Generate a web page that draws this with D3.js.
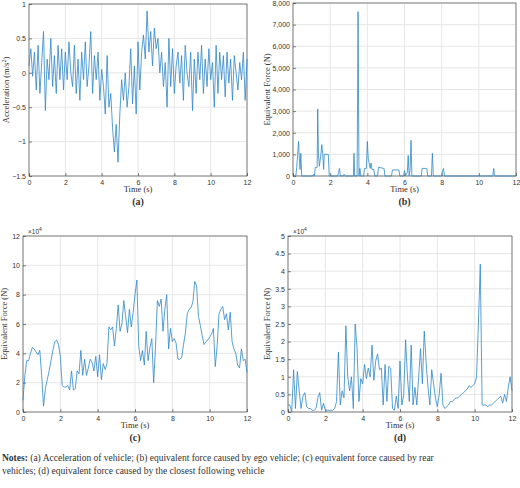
<!DOCTYPE html><html><head><meta charset="utf-8">
<script src="https://cdn.jsdelivr.net/npm/d3@7"></script>
<style>body{margin:0;background:#fff}svg text{fill:#333}</style></head><body>
<svg id="s" width="520" height="488"></svg>
<script>
const timeTicks=[0,2,4,6,8,10,12];
const accel=[0.1,0.35,-0.05,0.3,-0.25,0.4,-0.3,0.15,0.6,-0.55,0.2,-0.1,0.5,-0.2,0.25,-0.3,0.4,-0.1,0.35,-0.25,0.3,-0.1,0.45,0.0,-0.2,0.4,-0.3,0.2,-0.4,0.3,-0.1,0.45,-0.2,0.1,0.6,-0.3,0.25,-0.1,0.3,-0.4,0.05,-0.2,-0.6,0.25,-0.5,-0.3,-0.8,-1.15,-0.75,-1.3,-0.6,-0.1,-0.4,0.0,-0.5,-0.2,0.35,-0.45,0.1,-0.6,0.45,-0.25,0.3,0.55,0.2,0.9,0.3,0.6,0.1,0.65,0.35,0.5,0.0,0.3,-0.2,0.15,-0.5,0.5,-0.2,0.35,-0.3,0.1,0.3,-0.15,0.25,-0.4,0.4,0.0,-0.2,0.3,-0.55,0.2,-0.3,0.3,-0.1,0.4,-0.3,0.2,-0.2,0.35,-0.1,0.15,-0.5,0.4,-0.3,0.3,-0.1,0.25,-0.35,0.3,-0.15,0.2,-0.4,0.25,0.0,-0.25,0.15,-0.1,0.3,-0.4,0.2];
const egoT=[0,0.15,0.2,0.25,0.3,0.33,0.38,0.42,0.47,1.05,1.1,1.15,1.2,1.3,1.33,1.37,1.42,1.5,1.55,1.6,1.65,1.68,1.9,1.95,2.4,2.45,2.5,2.55,2.7,2.75,2.8,3.25,3.28,3.32,3.45,3.5,3.55,3.6,3.65,3.8,3.85,3.95,4.0,4.05,4.1,4.15,4.2,4.25,4.35,4.4,4.55,4.6,4.9,4.95,5.3,5.35,5.7,5.75,5.95,6.0,6.05,6.15,6.2,6.25,6.3,6.35,6.4,6.9,6.95,7.2,7.25,7.45,7.5,7.55,8.0,8.05,8.1,8.15,10.75,10.8,10.85,12];
const egoF=[0,0,400,1000,1600,1000,300,1050,0,0,80,0,400,400,3100,1000,450,1000,1450,1000,300,1000,1000,0,0,150,350,0,0,80,0,0,1050,0,0,7600,0,350,0,0,350,350,1600,800,600,350,600,300,300,0,0,400,350,0,0,280,280,0,0,250,0,150,950,0,250,1650,0,0,350,350,0,0,1050,0,0,250,350,0,0,350,0,0];
const rearF=[0.8,2.5,3.5,3.5,4.0,4.4,4.3,4.1,3.9,4.2,2.5,0.4,1.6,2.2,2.8,3.5,4.2,4.8,4.9,4.6,3.8,1.8,1.7,1.7,1.8,1.5,2.8,1.5,1.6,2.8,2.6,4.2,2.5,3.6,2.5,3.0,3.6,3.4,2.8,3.8,2.4,3.9,2.2,3.3,2.9,3.3,5.8,5.6,5.8,4.5,5.7,7.3,5.5,6.0,7.6,6.5,5.4,7.0,5.8,6.8,8.0,9.0,4.5,3.5,4.2,3.2,5.5,3.5,4.4,5.0,2.0,4.5,7.6,7.2,7.7,5.5,7.0,8.0,4.3,5.7,4.8,5.0,4.7,3.6,3.6,3.7,4.6,5.4,6.7,7.0,7.1,7.5,8.9,8.6,6.5,5.9,5.2,4.6,4.8,4.9,5.1,5.3,5.7,3.1,4.5,6.7,7.0,7.2,6.3,6.7,5.6,6.8,4.8,4.3,4.0,3.2,3.0,4.3,3.5,3.6,2.7];
const followF=[0.2,0.2,0.0,1.2,0.1,1.15,0.6,0.1,0.45,0.55,0.15,0.1,0.1,0.05,0.05,0.1,0.4,0.55,0.05,0.25,0.05,0.05,0.05,0.05,0.05,0.1,0.3,1.7,0.2,0.6,0.4,2.45,1.0,0.6,1.0,0.1,2.5,1.8,0.3,0.95,0.8,1.35,0.95,1.25,1.0,1.9,0.9,1.45,1.65,1.2,1.25,0.2,1.35,0.3,1.3,1.25,0.1,0.05,0.45,0.1,1.45,0.2,0.5,2.05,1.0,0.3,1.9,0.2,0.7,0.2,1.0,1.8,0.8,2.3,1.4,0.7,0.2,1.2,0.8,0.4,0.15,0.5,1.1,0.2,0.1,0.15,0.2,0.3,0.3,0.35,0.4,0.4,0.45,0.5,0.55,0.6,0.65,0.75,0.7,0.75,0.8,1.0,2.5,4.2,0.2,0.2,0.2,0.15,0.2,0.2,0.25,0.3,0.35,0.4,0.45,0.25,0.5,0.3,0.7,1.0,0.6];
const stepT=d3.range(121).map(i=>i/10);
const svg=d3.select("#s");
const blue="#2f86c8";
function panel(o){
  const x=d3.scaleLinear().domain([0,12]).range([o.l,o.r]);
  const y=d3.scaleLinear().domain(o.yd).range([o.b,o.t]);
  const g=svg.append("g");
  g.append("g").selectAll("line").data(timeTicks).join("line").attr("x1",x).attr("x2",x).attr("y1",o.t).attr("y2",o.b).attr("stroke","#e6e6e6");
  g.append("g").selectAll("line").data(o.yt).join("line").attr("x1",o.l).attr("x2",o.r).attr("y1",y).attr("y2",y).attr("stroke","#e6e6e6");
  g.append("rect").attr("x",o.l).attr("y",o.t).attr("width",o.r-o.l).attr("height",o.b-o.t).attr("fill","none").attr("stroke","#333").attr("stroke-width",0.6);
  const xa=g.append("g").attr("transform",`translate(0,${o.b})`).call(d3.axisBottom(x).tickValues(timeTicks).tickSize(-3).tickPadding(4));
  const ya=g.append("g").attr("transform",`translate(${o.l},0)`).call(d3.axisLeft(y).tickValues(o.yt).tickFormat(o.fmt).tickSize(-3).tickPadding(3));
  [xa,ya].forEach(a=>{a.select(".domain").remove();a.selectAll("line").attr("stroke","#333").attr("stroke-width",0.6);a.selectAll("text").attr("font-family","Liberation Sans, Arial").attr("font-size",7).attr("fill","#333");});
  g.append("path").datum(o.xs.map((t,i)=>[t,o.ys[i]])).attr("fill","none").attr("stroke",blue).attr("stroke-width",0.8)
    .attr("d",d3.line().x(d=>x(d[0])).y(d=>y(d[1])));
  g.append("text").attr("x",(o.l+o.r)/2).attr("y",o.b+16).attr("text-anchor","middle").attr("font-family","Liberation Serif").attr("font-size",8.5).text("Time (s)");
  g.append("text").attr("x",(o.l+o.r)/2).attr("y",o.b+29).attr("text-anchor","middle").attr("font-family","Liberation Serif").attr("font-weight","bold").attr("font-size",10).text(o.lab);
  const yl=g.append("text").attr("transform",`translate(${o.yl},${(o.t+o.b)/2}) rotate(-90)`).attr("text-anchor","middle").attr("font-family","Liberation Serif").attr("font-size",8.5);
  if(o.acc){yl.text("Acceleration (m/s");yl.append("tspan").attr("font-size",6).attr("dy",-3).text("2");yl.append("tspan").attr("dy",3).text(")");}
  else yl.text("Equivalent Force (N)");
  if(o.exp){const e=g.append("text").attr("x",o.l+5).attr("y",o.t-2).attr("font-family","Liberation Sans").attr("font-size",6.5);e.text("\u00d710");e.append("tspan").attr("font-size",5).attr("dy",-3).text("4");}
}
panel({l:29,r:247,t:4,b:176,yd:[-1.5,1],yt:[-1.5,-1,-0.5,0,0.5,1],fmt:d=>d<0?"\u2212"+Math.abs(d):d,xs:stepT,ys:accel,lab:"(a)",yl:9,acc:true});
panel({l:293,r:516,t:3,b:176,yd:[0,8000],yt:d3.range(0,8001,1000),fmt:d3.format(","),xs:egoT,ys:egoF,lab:"(b)",yl:270});
panel({l:23,r:247,t:236,b:412,yd:[0,12],yt:[0,2,4,6,8,10,12],fmt:d=>d,xs:stepT,ys:rearF,lab:"(c)",yl:7,exp:true});
panel({l:288,r:512,t:236,b:412,yd:[0,5],yt:d3.range(0,5.01,0.5),fmt:d=>d,xs:stepT,ys:followF,lab:"(d)",yl:270,exp:true});
const n1=svg.append("text").attr("x",2).attr("y",461).attr("font-family","Liberation Serif").attr("font-size",9.5);
n1.append("tspan").attr("font-weight","bold").text("Notes:");
n1.append("tspan").text(" (a) Acceleration of vehicle; (b) equivalent force caused by ego vehicle; (c) equivalent force caused by rear");
svg.append("text").attr("x",2).attr("y",474).attr("font-family","Liberation Serif").attr("font-size",9.5).text("vehicles; (d) equivalent force caused by the closest following vehicle");
</script></body></html>
